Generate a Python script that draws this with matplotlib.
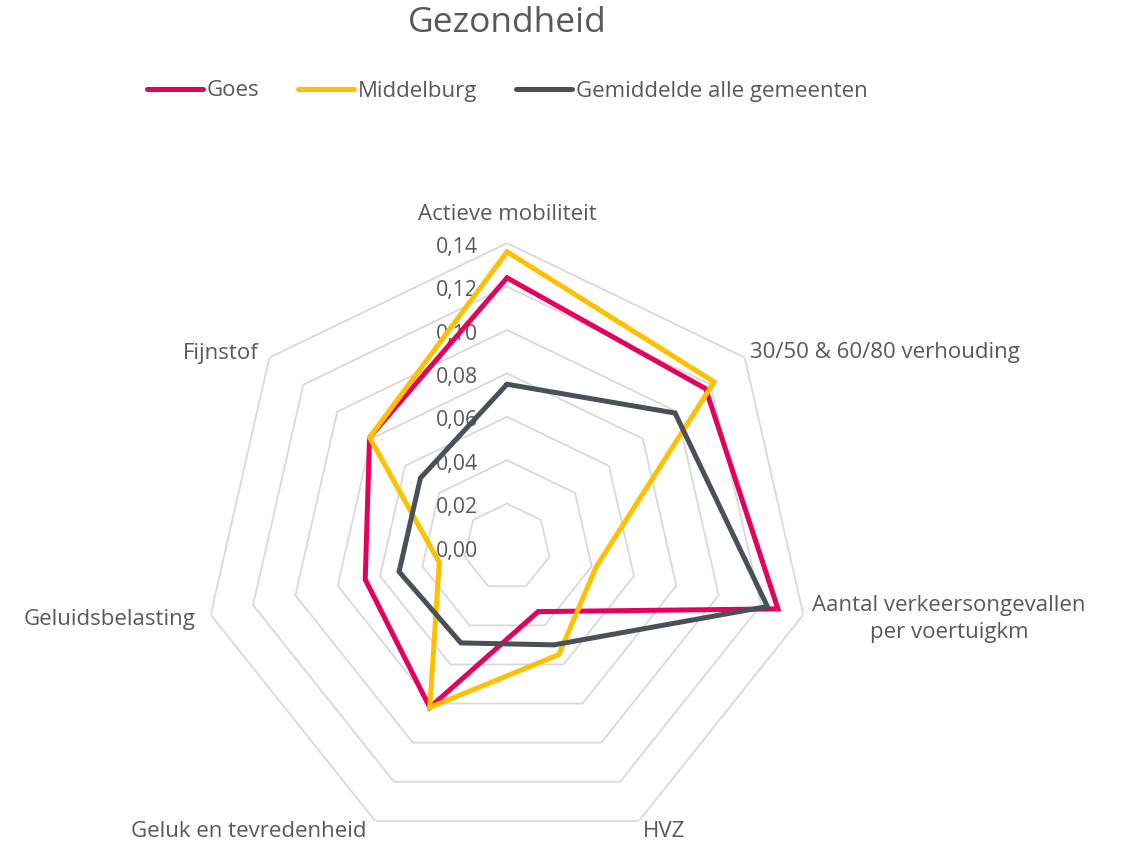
import numpy as np
import matplotlib
matplotlib.use("Agg")
import matplotlib.pyplot as plt

plt.rcParams['font.family'] = ['Open Sans', 'DejaVu Sans']

# data
categories = [
    "Actieve mobiliteit",
    "30/50 & 60/80 verhouding",
    "Aantal verkeersongevallen\nper voertuigkm",
    "HVZ",
    "Geluk en tevredenheid",
    "Geluidsbelasting",
    "Fijnstof",
]
goes = [0.124, 0.117, 0.128, 0.033, 0.082, 0.067, 0.081]
middelburg = [0.136, 0.122, 0.042, 0.055, 0.082, 0.032, 0.081]
gemiddeld = [0.075, 0.099, 0.123, 0.050, 0.049, 0.051, 0.051]
series_names = ["Goes", "Middelburg", "Gemiddelde alle gemeenten"]
ring_values = [0.02, 0.04, 0.06, 0.08, 0.10, 0.12, 0.14]
tick_labels = ["0,00", "0,02", "0,04", "0,06", "0,08", "0,10", "0,12", "0,14"]

colors = ["#E6005C", "#FFC000", "#4A5059"]
text_color = "#595959"

n = len(categories)
angles = np.linspace(0, 2 * np.pi, n, endpoint=False)
closed = np.append(angles, angles[0])

fig = plt.figure(figsize=(11.22, 8.46), dpi=100)
ax = fig.add_axes([0.181, -0.006, 0.5418, 0.7187], projection='polar')
ax.set_theta_zero_location('N')
ax.set_theta_direction(-1)
ax.set_ylim(0, 0.14)
ax.grid(False)
ax.spines['polar'].set_visible(False)
ax.set_xticks([])
ax.set_yticks([])
ax.patch.set_alpha(0)

# heptagon grid
for v in ring_values:
    ax.plot(closed, [v] * (n + 1), color="#D9D9D9", lw=1.3, zorder=1)

# radial labels along the top axis
for v, lab in zip([0.0] + ring_values, tick_labels):
    ax.annotate(lab, xy=(0, v), xytext=(-21, -3), textcoords='offset points',
                ha='right', va='center', fontsize=15.3, color=text_color, zorder=2)

# series
for vals, name, c in zip([goes, middelburg, gemiddeld], series_names, colors):
    ax.plot(closed, vals + vals[:1], color=c, lw=3.6, label=name,
            solid_joinstyle='miter', solid_capstyle='round', zorder=3)

# category labels
offsets = [(0, 20.6), (3.6, 3.8), (6.5, -3), (3, -7.8), (-6.5, -7.8), (-11, -3.2), (-8, 3.2)]
aligns = ['center', 'left', 'left', 'left', 'right', 'right', 'right']
for a, lab, off, ha in zip(angles, categories, offsets, aligns):
    ax.annotate(lab, xy=(a, 0.14), xytext=off, textcoords='offset points',
                ha=ha, va='center', multialignment='center', linespacing=1.4,
                fontsize=16, color=text_color, annotation_clip=False)

fig.text(0.4519, 1 - 23 / 846, "Gezondheid", ha='center', va='center',
         fontsize=25.5, color=text_color)

leg = fig.legend(loc='center', bbox_to_anchor=(0.4523, 1 - 91 / 846), ncol=3,
                 frameon=False, fontsize=16, handlelength=2.5,
                 handletextpad=0.18, columnspacing=1.75)
for t in leg.get_texts():
    t.set_color(text_color)

fig.savefig("out.png", dpi=100)
